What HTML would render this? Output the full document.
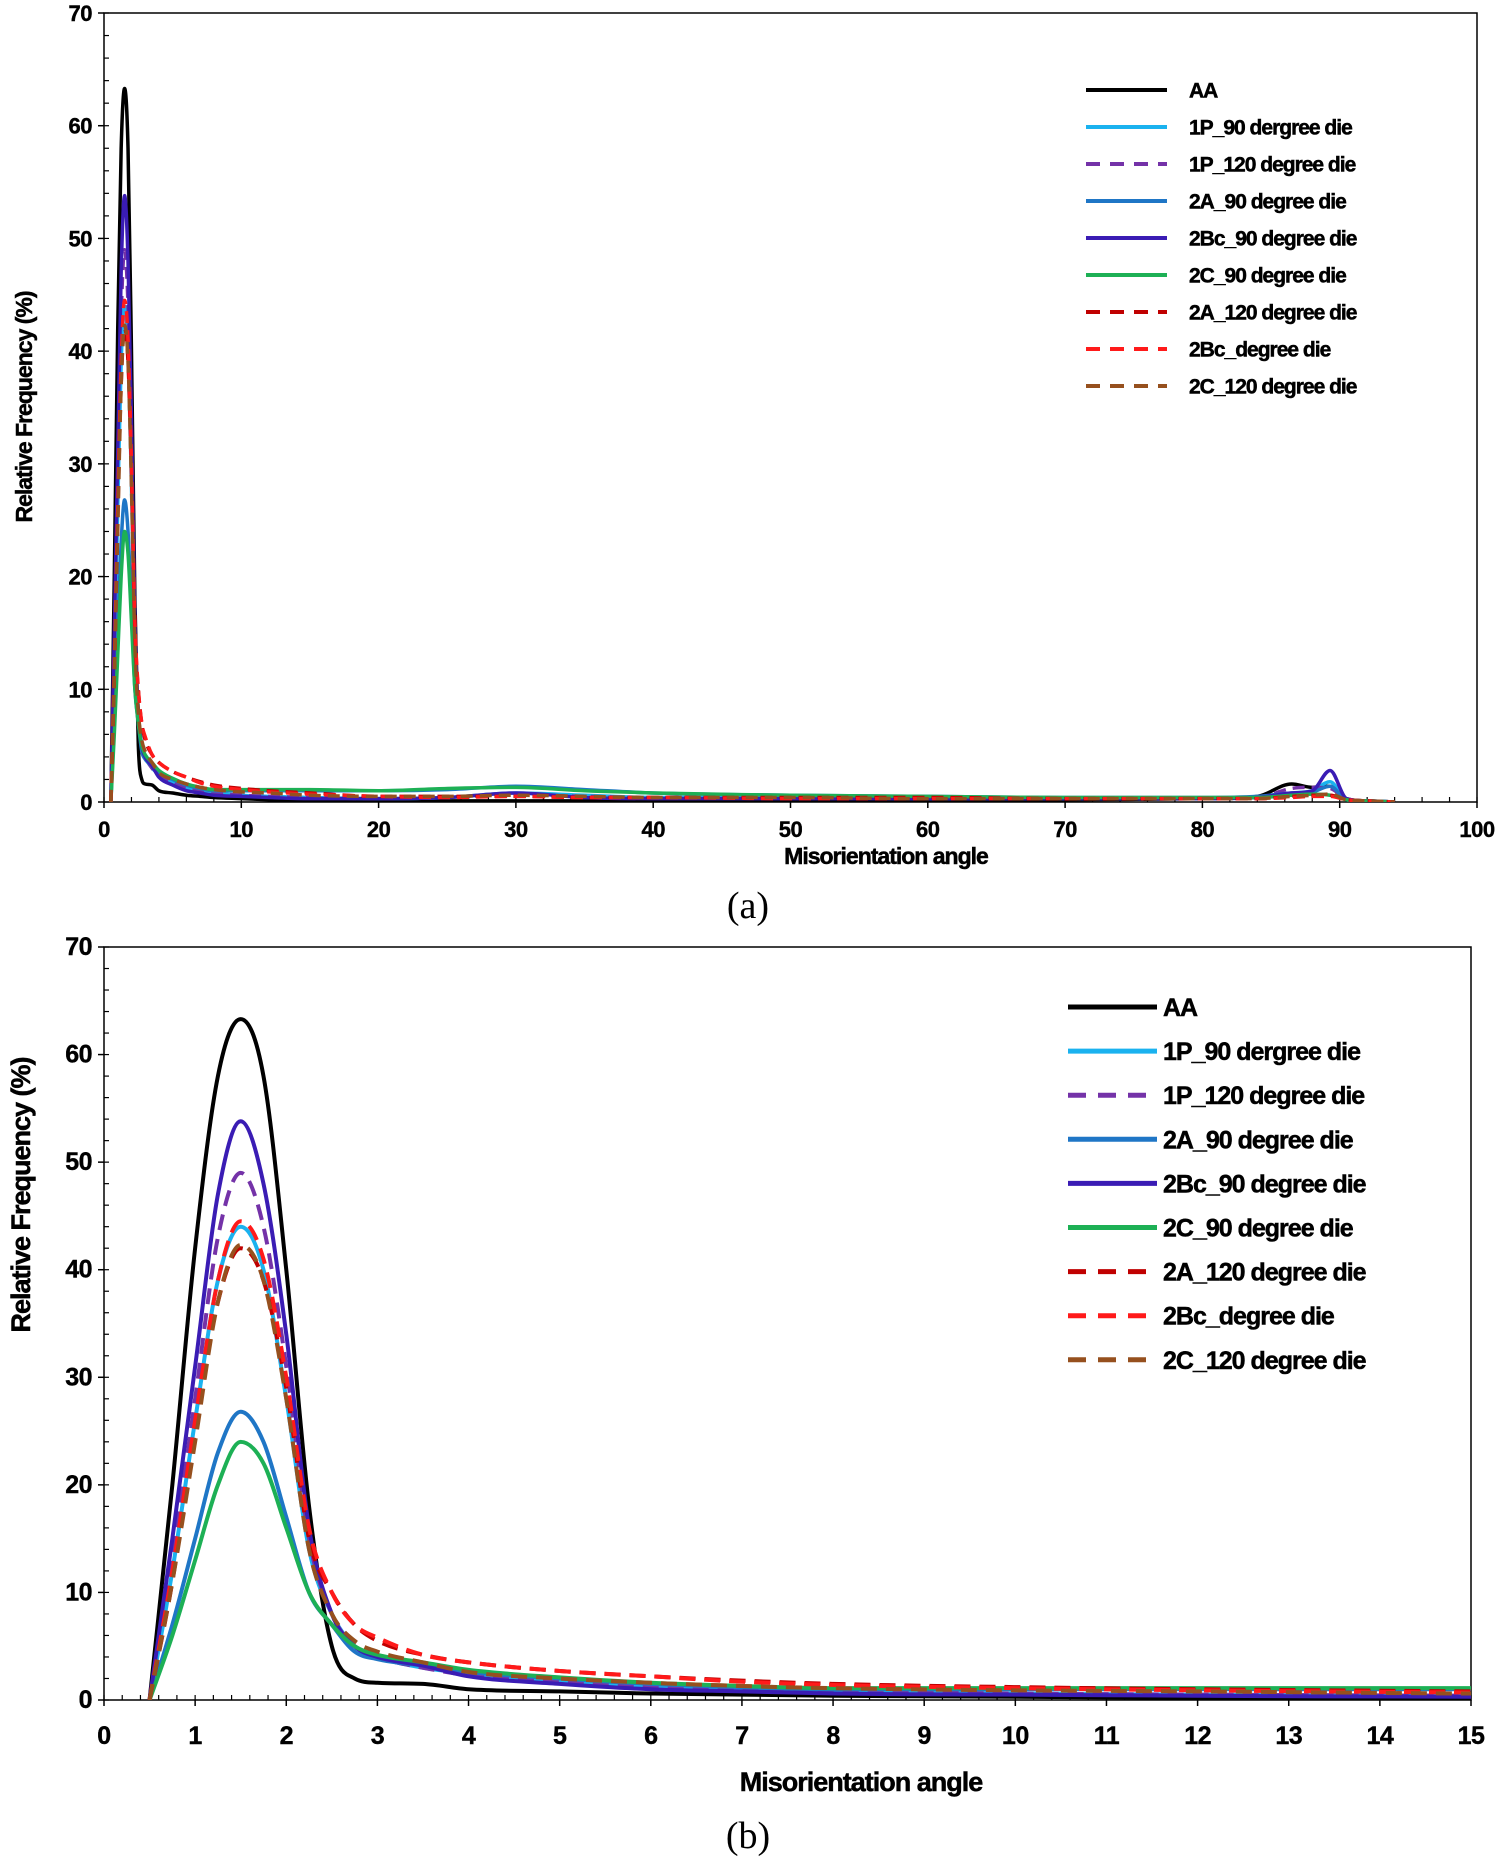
<!DOCTYPE html>
<html><head><meta charset="utf-8">
<style>
html,body{margin:0;padding:0;background:#fff;}
svg{display:block;}
text{font-family:"Liberation Sans",sans-serif;}
.tk{font-weight:bold;letter-spacing:-0.5px;fill:#000;stroke:#000;stroke-width:0.4px;}
.lg{font-weight:bold;letter-spacing:-1px;fill:#000;stroke:#000;stroke-width:0.5px;}
.cap{font-family:"Liberation Serif",serif;font-size:38px;fill:#000;}
</style></head>
<body>
<svg id="fig" width="1500" height="1860" viewBox="0 0 1500 1860">
<defs>
<clipPath id="clipA"><rect x="104" y="13" width="1373" height="789"/></clipPath>
<clipPath id="clipB"><rect x="104" y="947" width="1367" height="753"/></clipPath>
</defs>
</svg>
<script>
const xs = [0.5,0.75,1,1.25,1.5,1.75,2,2.25,2.5,2.75,3,3.5,4,5,6,7,8,10,12,15,20,25,30,35,40,50,60,70,80,84,86.5,88,89.3,90.5,92,94];
const seriesNames = ["AA","1P_90 dergree die","1P_120 degree die","2A_90 degree die","2Bc_90 degree die","2C_90 degree die","2A_120 degree die","2Bc_degree die","2C_120 degree die"];
const seriesColors = ["#000000","#1ab2ef","#7432a8","#1f76c6","#3a1cb4","#1db055","#c00000","#ff1a1a","#96501e"];
const seriesDashed = [false,false,true,false,false,false,true,true,true];
const valAA    = [0,20,42,58,63.3,58,40,18,5,2,1.6,1.5,1,0.8,0.6,0.5,0.4,0.3,0.2,0.1,0.1,0.1,0.1,0.1,0.1,0.1,0.1,0.2,0.3,0.5,1.6,1.3,1.4,0.3,0.1,0];
const val1P90  = [0,12,26,39,44,40,28,14,8,5,4,3,2.5,1.8,1.3,1.0,0.8,0.6,0.5,0.4,0.3,0.4,0.8,0.6,0.4,0.4,0.3,0.3,0.3,0.4,0.8,1.0,1.8,0.2,0.1,0];
const val1P120 = [0,13,28,43,49,44,31,15,8,5,4,3,2.3,1.7,1.2,1.0,0.8,0.6,0.5,0.4,0.3,0.4,0.6,0.5,0.4,0.4,0.3,0.3,0.3,0.4,1.2,1.3,1.2,0.3,0.1,0];
const val2A90  = [0,7,15,23,26.8,24,17,10,7,4.5,3.8,3.2,2.6,2,1.5,1.2,1.0,1.0,1.0,1.0,1.0,1.1,1.4,1.1,0.8,0.6,0.5,0.4,0.4,0.5,0.8,0.9,1.4,0.2,0.1,0];
const val2Bc90 = [0,15,31,47,53.8,48,34,16,8,5,4,3.2,2.2,1.5,1.0,0.8,0.6,0.5,0.4,0.3,0.3,0.4,0.8,0.4,0.3,0.3,0.3,0.3,0.3,0.4,0.8,1.0,2.8,0.3,0.1,0];
const val2C90  = [0,6,13,20,24,22,16,10,7,5,4.2,3.5,2.8,2.1,1.6,1.3,1.1,1.1,1.1,1.1,1.0,1.2,1.3,1.0,0.8,0.6,0.5,0.4,0.4,0.4,0.6,0.7,0.6,0.2,0.1,0];
const val2A120 = [0,11,25,37,42,39,29,15,10,7,5.5,4.2,3.5,2.7,2.2,1.8,1.5,1.2,1.0,0.8,0.5,0.5,0.5,0.4,0.4,0.4,0.4,0.3,0.3,0.3,0.5,0.6,0.6,0.2,0.1,0];
const val2Bc   = [0,12,26,39,44.5,41,30,16,10,7,5.8,4.2,3.5,2.7,2.2,1.7,1.4,1.1,0.9,0.7,0.5,0.4,0.5,0.4,0.4,0.3,0.3,0.3,0.3,0.3,0.4,0.5,0.5,0.2,0.1,0];
const val2C120 = [0,11,24,37,42.3,39,28,14,8,5.5,4.5,3.5,2.6,2,1.6,1.3,1.1,0.9,0.8,0.6,0.5,0.5,0.6,0.5,0.4,0.4,0.3,0.3,0.3,0.3,0.5,0.6,0.7,0.2,0.1,0];
const allVals = [valAA,val1P90,val1P120,val2A90,val2Bc90,val2C90,val2A120,val2Bc,val2C120];
const yTicks = [0,10,20,30,40,50,60,70];
const xTicksA = [0,10,20,30,40,50,60,70,80,90,100];
const xTicksB = [0,1,2,3,4,5,6,7,8,9,10,11,12,13,14,15];

const NS="http://www.w3.org/2000/svg";
const svg=document.getElementById('fig');
function mk(tag,attrs,parent){const e=document.createElementNS(NS,tag);for(const k in attrs)e.setAttribute(k,attrs[k]);(parent||svg).appendChild(e);return e;}

function monotonePath(px,py){
  const n=px.length;if(n<2)return '';
  const d=[],m=new Array(n);
  for(let i=0;i<n-1;i++)d.push((py[i+1]-py[i])/(px[i+1]-px[i]));
  m[0]=d[0];m[n-1]=d[n-2];
  for(let i=1;i<n-1;i++){m[i]=(d[i-1]*d[i]<=0)?0:(d[i-1]+d[i])/2;}
  for(let i=0;i<n-1;i++){if(d[i]===0){m[i]=0;m[i+1]=0;continue;}const a=m[i]/d[i],b=m[i+1]/d[i],s=a*a+b*b;if(s>9){const t=3/Math.sqrt(s);m[i]=t*a*d[i];m[i+1]=t*b*d[i];}}
  let p='M'+px[0].toFixed(2)+','+py[0].toFixed(2);
  for(let i=0;i<n-1;i++){const h=(px[i+1]-px[i])/3;p+=' C'+(px[i]+h).toFixed(2)+','+(py[i]+m[i]*h).toFixed(2)+' '+(px[i+1]-h).toFixed(2)+','+(py[i+1]-m[i+1]*h).toFixed(2)+' '+px[i+1].toFixed(2)+','+py[i+1].toFixed(2);}
  return p;
}

function chart(cfg){
  const g=mk('g',{});
  
  
  const X=v=>cfg.x0+(v-cfg.xmin)/(cfg.xmax-cfg.xmin)*(cfg.x1-cfg.x0);
  const Y=v=>cfg.y0-v/70*(cfg.y0-cfg.y1);
  const fr=mk('rect',{x:cfg.x0,y:cfg.y1,width:cfg.x1-cfg.x0,height:cfg.y0-cfg.y1,fill:'none',stroke:'#000','stroke-width':1.5},g);
  
  
  for(let v=0;v<=70;v+=2){mk('line',{x1:cfg.x0,x2:cfg.x0+5,y1:Y(v),y2:Y(v),stroke:'#000','stroke-width':1.2},g);}
  yTicks.forEach(v=>{
    mk('line',{x1:cfg.x0-6,x2:cfg.x0,y1:Y(v),y2:Y(v),stroke:'#000','stroke-width':1.5},g);
    const t=mk('text',{x:cfg.x0-12,y:Y(v)+8,'text-anchor':'end',class:'tk','font-size':cfg.tickFs},g);
    t.textContent=v;
    
    
  });
  for(let v=cfg.xmin;v<=cfg.xmax+1e-9;v+=cfg.xminor){mk('line',{x1:X(v),x2:X(v),y1:cfg.y0,y2:cfg.y0-5,stroke:'#000','stroke-width':1.2},g);}
  cfg.xTicks.forEach(v=>{
    mk('line',{x1:X(v),x2:X(v),y1:cfg.y0,y2:cfg.y0+6,stroke:'#000','stroke-width':1.5},g);
    const t=mk('text',{x:X(v),y:cfg.y0+cfg.tickDy,'text-anchor':'middle',class:'tk','font-size':cfg.tickFs},g);
    t.textContent=v;
    
    
  });
  const sg=mk('g',{'clip-path':'url(#'+cfg.clip+')'},g);
  for(let s=0;s<allVals.length;s++){
    const px=xs.map(X),py=allVals[s].map(Y);
    const p=mk('path',{d:monotonePath(px,py),fill:'none',stroke:seriesColors[s],'stroke-width':cfg.lw,'stroke-linejoin':'round'},sg);
    if(seriesDashed[s])p.setAttribute('stroke-dasharray',cfg.dash);
    
    
  }
  const lg=mk('g',{},g);
  
  
  for(let s=0;s<seriesNames.length;s++){
    const yy=cfg.legY0+s*cfg.legDy;
    const ln=mk('line',{x1:cfg.legX0,x2:cfg.legX1,y1:yy,y2:yy,stroke:seriesColors[s],'stroke-width':cfg.legLw},lg);
    if(seriesDashed[s])ln.setAttribute('stroke-dasharray',cfg.legDash);
    
    
    const t=mk('text',{x:cfg.legTx,y:yy+cfg.legFs*0.36,class:'lg','font-size':cfg.legFs},lg);
    t.textContent=seriesNames[s];
    
    
  }
  const xt=mk('text',{x:cfg.xtX,y:cfg.xtY,'text-anchor':'middle',class:'lg','font-size':cfg.titleFs},g);
  xt.textContent='Misorientation angle';
  
  
  const yt=mk('text',{x:0,y:0,'text-anchor':'middle',class:'lg','font-size':cfg.titleFs,transform:'translate('+cfg.ytX+','+cfg.ytY+') rotate(-90)'},g);
  yt.textContent='Relative Frequency (%)';
  
  
  const cp=mk('text',{x:cfg.capX,y:cfg.capY,'text-anchor':'middle',class:'cap'},g);
  cp.textContent=cfg.cap;
  
  
}

chart({name:'chart-a',x0:104,x1:1477,y0:802,y1:13,xmin:0,xmax:100,xminor:2,xTicks:xTicksA,clip:'clipA',lw:3.5,dash:'12,7',
  tickFs:22,tickDy:35,legX0:1086,legX1:1167,legTx:1189,legY0:90,legDy:37,legFs:21,legLw:4,legDash:'14,10',
  titleFs:23,xtX:886,xtY:864,ytX:32,ytY:407,capX:748,capY:918,cap:'(a)'});
chart({name:'chart-b',x0:104,x1:1471,y0:1700,y1:947,xmin:0,xmax:15,xminor:0.2,xTicks:xTicksB,clip:'clipB',lw:4,dash:'16,9',
  tickFs:25,tickDy:44,legX0:1068,legX1:1157,legTx:1163,legY0:1007,legDy:44.1,legFs:25,legLw:5,legDash:'18,12',
  titleFs:27,xtX:861,xtY:1791,ytX:30,ytY:1195,capX:748,capY:1848,cap:'(b)'});
</script>
</body></html>
